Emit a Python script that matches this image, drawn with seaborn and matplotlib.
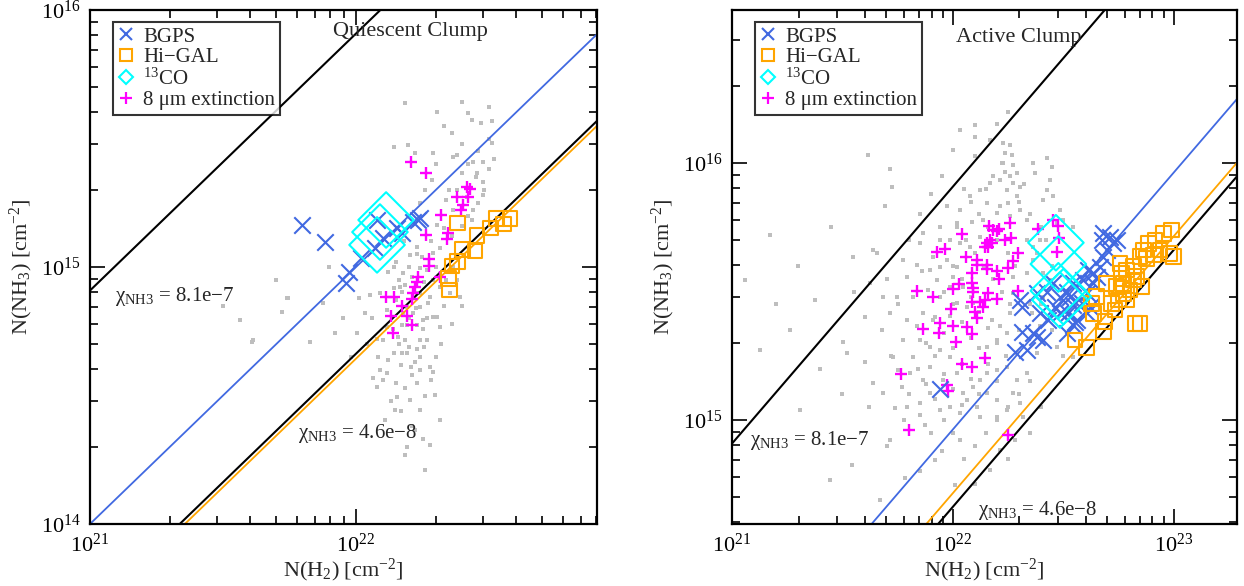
import numpy as np
import pandas as pd
import matplotlib
matplotlib.use("Agg")
import matplotlib.pyplot as plt
import seaborn as sns
from matplotlib.lines import Line2D
from matplotlib.ticker import LogLocator, NullFormatter

sns.set_style("ticks")
plt.rcParams["font.family"] = ["Liberation Serif", "DejaVu Serif"]
plt.rcParams["mathtext.fontset"] = "custom"
plt.rcParams["mathtext.rm"] = "Liberation Serif"
plt.rcParams["mathtext.it"] = "Liberation Serif:italic"
plt.rcParams["mathtext.bf"] = "Liberation Serif:bold"

# ---------------- data (log10 of column densities, cm^-2) ----------------
# Quiescent clump panel
q_grey_lx = [22.141, 22.197, 22.222, 22.291, 22.285, 22.366, 22.379, 22.441, 22.479, 22.454,
             22.479, 22.510, 22.398, 22.416, 22.479, 22.441, 22.366, 22.435, 22.304, 22.316,
             22.291, 22.228, 22.203, 22.247, 22.241, 22.266, 22.178, 22.166, 22.141, 22.172,
             22.241, 22.278, 22.241, 22.291, 22.304, 22.191, 22.228, 22.172, 22.116, 22.159,
             22.241, 22.266, 22.184, 22.141, 22.191, 22.241, 22.222, 22.278, 22.090, 22.116,
             22.065, 22.078, 22.153, 22.210, 22.291, 22.034, 22.003, 21.921, 21.827, 21.746,
             21.721, 21.564, 21.608, 21.877, 22.053, 22.141, 22.366, 22.354, 22.391, 22.316,
             22.191, 22.216, 22.116, 22.103, 22.172, 22.084, 22.316, 22.253, 21.613, 21.741,
             22.222, 22.278, 22.184, 22.259, 22.316, 22.147, 22.241, 22.203, 22.297, 22.109,
             22.184, 22.305, 22.398, 22.500, 22.436, 22.511,
             22.160, 22.185, 22.210, 22.230, 22.255, 22.270, 22.150, 22.175, 22.200, 22.225,
             22.250, 22.265, 22.140, 22.160, 22.200, 22.230, 22.255, 22.170, 22.205, 22.240,
             22.120, 22.100, 22.150, 22.185, 22.230, 22.130, 22.170, 22.260, 22.280, 22.300,
             22.320, 22.330, 22.340, 22.300, 22.280, 22.330, 22.360, 22.400, 22.420, 22.460,
             22.480, 22.450, 22.420, 22.460, 22.500, 22.400, 22.360, 22.330, 22.300, 22.260,
             22.240, 22.340, 22.380, 22.500, 22.520, 22.470, 22.420, 22.350, 22.120, 22.090,
             22.060, 22.040, 22.010, 21.980, 22.080, 22.200, 22.230, 22.180, 22.380, 22.400,
             22.360, 22.290, 22.150, 21.950, 21.700, 21.500, 21.900, 22.210, 22.250, 22.190]
q_grey_ly = [15.468, 15.475, 15.442, 15.442, 15.338, 15.429, 15.436, 15.410, 15.410, 15.364,
             15.332, 15.481, 15.364, 15.274, 15.280, 15.222, 15.222, 15.183, 15.163, 15.072,
             15.053, 15.079, 15.047, 15.040, 14.995, 14.988, 14.975, 14.923, 14.917, 14.904,
             14.897, 14.884, 14.845, 14.807, 14.807, 14.774, 14.774, 14.774, 14.768, 14.729,
             14.716, 14.716, 14.716, 14.664, 14.664, 14.651, 14.632, 14.612, 14.599, 14.586,
             14.567, 14.534, 14.495, 14.580, 14.593, 14.820, 14.742, 14.744, 14.709, 14.878,
             14.826, 14.794, 14.709, 14.858, 14.891, 15.001, 15.001, 14.897, 14.884, 14.923,
             14.845, 14.820, 14.833, 14.716, 14.664, 14.651, 14.768, 14.794, 14.716, 14.879,
             14.366, 14.307, 14.268, 14.210, 14.405, 14.444, 14.444, 14.482, 14.502, 14.405,
             15.638, 15.603, 15.642, 15.623, 15.572, 15.568,
             14.950, 14.930, 14.960, 14.900, 14.940, 14.860, 14.870, 14.820, 14.800, 14.840,
             14.760, 14.800, 14.760, 14.700, 14.690, 14.680, 14.690, 14.620, 14.610, 14.600,
             14.640, 14.560, 14.550, 14.530, 14.550, 14.480, 14.440, 14.500, 14.560, 14.650,
             14.700, 14.850, 14.950, 15.000, 15.100, 15.150, 15.120, 15.160, 15.200, 15.250,
             15.300, 15.350, 15.400, 15.450, 15.500, 15.480, 15.520, 15.550, 15.400, 15.300,
             15.250, 15.260, 15.300, 15.380, 15.420, 15.560, 15.600, 15.300, 14.980, 14.900,
             14.800, 14.700, 14.880, 14.650, 14.720, 15.000, 15.050, 15.100, 14.950, 14.850,
             14.780, 14.950, 15.020, 14.800, 14.950, 14.850, 15.000, 14.380, 14.330, 14.300]

q_bgps_lx = [21.796, 21.885, 21.962, 21.975, 22.018, 22.071, 22.078, 22.103, 22.153, 22.172,
             22.215, 22.234, 22.241]
q_bgps_ly = [15.163, 15.098, 14.939, 14.982, 15.034, 15.073, 15.183, 15.112, 15.151, 15.131,
             15.176, 15.183, 15.189]

q_higal_lx = [22.381, 22.529, 22.579, 22.554, 22.506, 22.454, 22.447, 22.400, 22.381, 22.360,
              22.347, 22.351]
q_higal_ly = [15.172, 15.189, 15.189, 15.167, 15.151, 15.122, 15.062, 15.069, 15.021, 15.004,
              14.956, 14.911]

q_co_lx = [22.113, 22.090, 22.079]
q_co_ly = [15.183, 15.136, 15.086]

q_ext_lx = [22.206, 22.263, 22.416, 22.429, 22.422, 22.381, 22.403, 22.394, 22.318, 22.347,
            22.341, 22.262, 22.276, 22.276, 22.232, 22.228, 22.222, 22.215, 22.209, 22.112,
            22.143, 22.173, 22.133, 22.193, 22.209, 22.140, 22.316]
q_ext_ly = [15.410, 15.365, 15.312, 15.302, 15.271, 15.271, 15.241, 15.222, 15.201, 15.133,
            15.108, 15.125, 15.030, 15.005, 14.962, 14.943, 14.923, 14.898, 14.874, 14.884,
            14.884, 14.849, 14.810, 14.810, 14.774, 14.744, 14.962]

# Active clump panel
a_grey_lx = [21.617, 21.715, 21.693, 21.723, 22.100, 22.228, 22.236, 22.266, 22.228, 22.273,
             22.236, 22.288, 22.213, 22.243, 22.273, 22.303, 22.288, 22.251, 22.213, 22.198,
             22.258, 22.303, 22.334, 22.364, 22.424, 22.447, 22.371, 22.424, 22.454, 22.409,
             22.484, 22.439, 22.153, 22.138, 22.085, 21.972, 21.941, 21.866, 21.851, 21.836,
             21.859, 21.896, 21.941, 21.926, 22.002, 21.987, 21.941, 22.017, 22.062, 21.866,
             21.791, 21.715, 21.640, 21.655, 21.549, 21.625, 21.685, 21.745, 21.776, 21.821,
             21.730, 21.753, 21.806, 21.866, 21.896, 21.851, 21.791, 21.738, 21.941, 21.987,
             22.047, 22.092, 22.122, 22.153, 22.198, 22.243, 22.153, 22.198, 22.243, 22.213,
             22.175, 22.258, 22.273, 22.273, 22.334, 22.364, 22.334, 22.364, 22.394, 22.409,
             22.439, 22.469, 22.500, 22.545, 22.379, 22.334, 22.288, 22.273, 22.303, 22.243,
             22.198, 22.153, 22.107, 22.062, 22.017, 21.987, 21.941, 21.896, 21.851, 21.836,
             21.911, 21.987, 22.092, 22.047, 22.017, 21.972, 22.077, 22.122, 22.032, 21.987,
             21.911, 21.776, 21.791, 21.821, 21.889, 21.941, 22.017, 22.032, 22.077, 22.122,
             22.168, 21.504, 21.519, 21.602, 21.640, 21.685, 21.768, 21.896, 21.957, 22.032,
             22.122, 22.198, 22.319, 22.288, 22.394, 22.409, 22.356, 22.424, 22.545, 22.469,
             22.032, 22.167, 22.258, 22.100, 21.443, 21.543, 21.783, 22.009, 22.213, 22.281,
             21.919, 21.670, 22.167, 22.032, 21.873, 21.715, 21.059, 21.127, 21.262, 21.308,
             21.376, 21.172,
             22.05, 22.08, 22.12, 22.16, 22.20, 22.02, 22.06, 22.10, 22.14, 22.18,
             22.22, 22.26, 22.00, 22.04, 22.08, 22.12, 22.16, 22.20, 22.24, 21.96,
             22.00, 22.04, 22.08, 22.12, 22.16, 22.20, 21.92, 21.96, 22.00, 22.04,
             22.08, 22.12, 21.88, 21.92, 21.96, 22.00, 22.04, 21.84, 21.88, 21.92,
             21.96, 22.00, 21.80, 21.85, 21.90, 21.95, 22.05, 22.10, 22.15, 22.20,
             22.25, 22.30, 22.35, 22.30, 22.28, 22.25, 22.30, 22.26, 22.22, 22.18,
             22.15, 22.32, 22.35, 22.40, 22.38, 22.42, 22.45, 22.40, 22.45, 22.50,
             22.35, 21.75, 21.70, 21.68, 21.72, 21.60, 21.55, 21.80, 21.85, 21.90,
             21.95, 22.00, 22.10, 22.20, 22.25, 21.78, 21.70, 21.62, 21.50, 21.40,
             21.85, 22.10, 22.25, 22.35, 22.40, 21.30, 21.20, 21.45]
a_grey_ly = [16.032, 15.976, 15.833, 15.908, 16.028, 16.077, 16.038, 16.032, 15.999, 15.993,
             15.967, 15.960, 15.934, 15.895, 15.921, 15.908, 15.870, 15.844, 15.831, 15.805,
             15.792, 15.818, 15.779, 15.999, 16.019, 15.986, 15.960, 15.895, 15.870, 15.857,
             15.818, 15.934, 15.844, 15.779, 15.772, 15.831, 15.753, 15.727, 15.688, 15.604,
             15.578, 15.584, 15.597, 15.545, 15.558, 15.519, 15.480, 15.454, 15.441, 15.416,
             15.390, 15.416, 15.662, 15.649, 15.636, 15.532, 15.480, 15.480, 15.312, 15.247,
             15.247, 15.195, 15.182, 15.156, 15.104, 15.065, 15.052, 15.046, 15.039, 15.052,
             15.104, 15.130, 15.156, 15.182, 15.195, 15.208, 15.286, 15.312, 15.338, 15.364,
             15.390, 15.416, 15.493, 15.558, 15.571, 15.623, 15.701, 15.675, 15.701, 15.571,
             15.545, 15.766, 15.779, 15.753, 15.260, 15.182, 15.156, 15.104, 15.065, 15.039,
             15.078, 15.104, 15.052, 15.078, 15.182, 15.247, 15.273, 15.286, 15.312, 15.364,
             15.390, 15.403, 15.454, 15.519, 15.597, 15.623, 15.675, 15.714, 15.688, 15.701,
             15.636, 15.623, 15.558, 15.480, 15.506, 15.701, 15.766, 15.818, 15.870, 15.895,
             15.921, 15.305, 15.260, 15.227, 15.143, 15.104, 15.130, 15.208, 15.156, 15.026,
             15.013, 15.013, 15.013, 15.260, 15.364, 15.480, 15.416, 15.441, 15.247, 15.286,
             16.128, 16.089, 16.070, 16.148, 14.767, 14.825, 14.774, 14.747, 14.883, 14.922,
             14.844, 14.689, 14.805, 14.922, 14.981, 14.922, 15.545, 15.272, 15.350, 15.039,
             15.467, 15.720,
             15.90, 15.85, 15.80, 15.75, 15.70, 15.75, 15.70, 15.65, 15.60, 15.55,
             15.50, 15.45, 15.60, 15.55, 15.48, 15.42, 15.36, 15.30, 15.25, 15.50,
             15.45, 15.38, 15.32, 15.28, 15.22, 15.15, 15.40, 15.34, 15.28, 15.22,
             15.16, 15.10, 15.30, 15.25, 15.18, 15.12, 15.06, 15.20, 15.14, 15.08,
             15.00, 14.95, 15.10, 15.02, 14.95, 14.88, 14.85, 14.90, 14.95, 15.00,
             15.05, 15.10, 15.15, 15.35, 15.60, 15.65, 15.85, 15.95, 16.00, 15.95,
             15.90, 15.92, 15.80, 15.75, 15.65, 15.70, 15.60, 15.45, 15.35, 15.25,
             15.45, 15.45, 15.55, 15.35, 15.25, 15.40, 15.50, 15.70, 15.80, 15.88,
             15.95, 16.05, 16.10, 16.15, 16.20, 15.00, 14.90, 15.05, 15.10, 15.20,
             14.80, 14.75, 14.85, 14.95, 15.05, 15.60, 15.45, 15.75]

a_bgps_lx = [21.941, 22.281, 22.311, 22.303, 22.311, 22.379, 22.364, 22.394, 22.432, 22.409,
             22.379, 22.462, 22.484, 22.515, 22.545, 22.530, 22.545, 22.522, 22.560, 22.515,
             22.582, 22.605, 22.620, 22.605, 22.635, 22.650, 22.665, 22.681, 22.696, 22.673,
             22.711, 22.726, 22.741, 22.681, 22.635, 22.613, 22.590, 22.454, 22.424, 22.484,
             22.545, 22.552, 22.334]
a_bgps_ly = [15.119, 15.266, 15.344, 15.467, 15.441, 15.493, 15.337, 15.415, 15.389, 15.311,
             15.324, 15.441, 15.480, 15.499, 15.532, 15.480, 15.447, 15.415, 15.389, 15.337,
             15.454, 15.493, 15.441, 15.415, 15.532, 15.558, 15.597, 15.636, 15.662, 15.700,
             15.713, 15.687, 15.700, 15.726, 15.571, 15.584, 15.545, 15.532, 15.499, 15.415,
             15.370, 15.383, 15.272]

a_higal_lx = [22.552, 22.605, 22.681, 22.688, 22.635, 22.628, 22.650, 22.733, 22.748, 22.771,
              22.756, 22.763, 22.786, 22.816, 22.847, 22.862, 22.877, 22.907, 22.914, 22.952,
              22.990, 22.997, 22.982, 22.937, 22.831, 22.854, 22.771, 22.801, 22.824, 22.847,
              22.696, 22.718, 22.741, 22.786, 22.884, 22.816]
a_higal_ly = [15.311, 15.283, 15.344, 15.383, 15.415, 15.454, 15.480, 15.428, 15.467, 15.493,
              15.610, 15.571, 15.584, 15.597, 15.636, 15.662, 15.629, 15.642, 15.700, 15.726,
              15.739, 15.636, 15.649, 15.662, 15.558, 15.519, 15.532, 15.506, 15.376, 15.376,
              15.532, 15.454, 15.519, 15.467, 15.687, 15.545]

a_co_lx = [22.466, 22.477, 22.477, 22.500, 22.484]
a_co_ly = [15.690, 15.607, 15.503, 15.480, 15.467]

a_ext_lx = [22.454, 22.386, 22.477, 22.481, 22.472, 22.258, 22.296, 22.163, 22.183, 22.198,
            22.210, 22.153, 22.145, 22.160, 22.175, 22.168, 22.236, 22.261, 22.040, 21.926,
            21.964, 22.059, 22.107, 22.110, 22.153, 22.153, 22.198, 22.251, 22.273, 22.085,
            22.088, 22.089, 22.092, 22.210, 22.160, 22.145, 22.122, 22.085, 22.198, 22.296,
            21.836, 21.908, 22.027, 22.002, 21.991, 22.100, 22.107, 22.138, 21.941, 22.002,
            22.065, 22.085, 21.938, 21.866, 22.012, 22.145, 22.043, 22.088, 21.765, 21.972,
            21.979, 21.801, 22.249]
a_ext_ly = [15.778, 15.742, 15.755, 15.707, 15.655, 15.765, 15.651, 15.755, 15.739, 15.737,
            15.742, 15.687, 15.674, 15.672, 15.687, 15.700, 15.700, 15.707, 15.724, 15.655,
            15.664, 15.636, 15.623, 15.603, 15.603, 15.586, 15.581, 15.593, 15.620, 15.571,
            15.532, 15.512, 15.499, 15.547, 15.493, 15.467, 15.460, 15.460, 15.472, 15.503,
            15.503, 15.477, 15.529, 15.510, 15.431, 15.422, 15.396, 15.441, 15.379, 15.367,
            15.363, 15.335, 15.337, 15.354, 15.305, 15.240, 15.218, 15.205, 15.179, 15.136,
            15.114, 14.961, 14.942]

# abundance lines  N(NH3) = chi * N(H2)
ref_chi = [8.1e-7, 4.6e-8]
ref_labels = ["8.1e\u22127", "4.6e\u22128"]
q_fit_chi = {"BGPS": 1.0e-7, "Hi-GAL": 4.4e-8}
a_fit_chi = {"BGPS": 9.2e-8, "Hi-GAL": 5.2e-8}

titles = ["Quiescent Clump", "Active Clump"]
q_xlim, q_ylim = (1e21, 8.05e22), (1e14, 1e16)
a_xlim, a_ylim = (1e21, 1.93e23), (3.94e14, 3.94e16)

# ---------------- styling ----------------
C_BLUE = "#4169E1"
C_ORANGE = "#FFA500"
C_CYAN = "#00FFFF"
C_MAG = "#FF00FF"
C_GREY = "#BEBEBE"
FS = 15

fig = plt.figure(figsize=(12.44, 5.86), dpi=100)
axL = fig.add_axes([90 / 1244, 1 - 524 / 586, 507 / 1244, 514 / 586])
axR = fig.add_axes([732 / 1244, 1 - 524 / 586, 505 / 1244, 514 / 586])


def df_of(lx, ly):
    return pd.DataFrame({"x": 10 ** np.asarray(lx), "y": 10 ** np.asarray(ly)})


def panel(ax, grey, bgps, higal, co, ext, fit_chi, xlim, ylim, title, title_pos,
          ref_pos):
    ax.set_xscale("log")
    ax.set_yscale("log")
    sns.scatterplot(data=df_of(*grey), x="x", y="y", ax=ax, marker="s", s=6,
                    color=C_GREY, linewidth=0, zorder=1)
    xs = np.array(xlim)
    for chi in ref_chi:
        sns.lineplot(x=xs, y=chi * xs, ax=ax, color="black", lw=1.5, zorder=2)
    sns.lineplot(x=xs, y=fit_chi["BGPS"] * xs, ax=ax, color=C_BLUE, lw=1.3, zorder=2)
    sns.lineplot(x=xs, y=fit_chi["Hi-GAL"] * xs, ax=ax, color=C_ORANGE, lw=1.3, zorder=2)

    sns.scatterplot(data=df_of(*ext), x="x", y="y", ax=ax, marker="+", s=75,
                    color=C_MAG, linewidth=1.7, zorder=3)
    sns.scatterplot(data=df_of(*bgps), x="x", y="y", ax=ax, marker="x", s=140,
                    color=C_BLUE, linewidth=1.5, zorder=4)
    sns.scatterplot(data=df_of(*higal), x="x", y="y", ax=ax, marker="s", s=110,
                    color=C_ORANGE, linewidth=1.5, zorder=4)
    ax.collections[-1].set_facecolor("none")
    ax.collections[-1].set_edgecolor(C_ORANGE)
    sns.scatterplot(data=df_of(*co), x="x", y="y", ax=ax, marker="D", s=800,
                    color=C_CYAN, linewidth=1.5, zorder=5)
    ax.collections[-1].set_facecolor("none")
    ax.collections[-1].set_edgecolor(C_CYAN)

    ax.set_xlim(*xlim)
    ax.set_ylim(*ylim)
    ax.set_xlabel(r"N(H$_2$) [cm$^{-2}$]", fontsize=FS + 1, labelpad=0)
    ax.set_ylabel(r"N(NH$_3$) [cm$^{-2}$]", fontsize=FS + 1, labelpad=4)
    ax.xaxis.set_minor_locator(LogLocator(base=10, subs=np.arange(2, 10), numticks=20))
    ax.yaxis.set_minor_locator(LogLocator(base=10, subs=np.arange(2, 10), numticks=20))
    ax.xaxis.set_minor_formatter(NullFormatter())
    ax.yaxis.set_minor_formatter(NullFormatter())
    ax.tick_params(which="both", direction="in", top=True, right=True,
                   labelsize=FS + 1, width=1.2, colors="black")
    ax.tick_params(which="major", length=11, pad=7)
    ax.tick_params(which="minor", length=6)
    ax.tick_params(axis="x", which="major", pad=7)
    for sp in ax.spines.values():
        sp.set_linewidth(1.6)
        sp.set_color("black")
        sp.set_visible(True)

    ax.text(title_pos[0], title_pos[1], title, transform=ax.transAxes,
            ha="center", va="baseline", fontsize=FS + 1)
    for (px, py), lab in zip(ref_pos, ref_labels):
        ax.text(px, py, "\u03c7$_{\\mathrm{NH3}}$ = " + lab, transform=ax.transAxes,
                ha="left", va="center", fontsize=FS)

    handles = [
        Line2D([], [], ls="none", marker="x", color=C_BLUE, ms=9, mew=1.5),
        Line2D([], [], ls="none", marker="s", mfc="none", mec=C_ORANGE, ms=8, mew=1.5),
        Line2D([], [], ls="none", marker="D", mfc="none", mec=C_CYAN, ms=7, mew=1.5),
        Line2D([], [], ls="none", marker="+", color=C_MAG, ms=9, mew=1.6),
    ]
    labels = ["BGPS", "Hi\u2212GAL", r"$^{13}$CO", "8 \u03bcm extinction"]
    leg = ax.legend(handles, labels, loc="upper left", bbox_to_anchor=(0.045, 0.977),
                    frameon=True, fancybox=False, edgecolor="black", fontsize=FS,
                    handlelength=0.8, handletextpad=0.4, borderpad=0.25,
                    labelspacing=0.05, borderaxespad=0.0)
    leg.get_frame().set_linewidth(1.5)
    leg.set_zorder(10)


panel(axL, (q_grey_lx, q_grey_ly), (q_bgps_lx, q_bgps_ly), (q_higal_lx, q_higal_ly),
      (q_co_lx, q_co_ly), (q_ext_lx, q_ext_ly), q_fit_chi, q_xlim, q_ylim, titles[0],
      (0.632, 0.949), [(0.049, 0.442), (0.410, 0.177)])
panel(axR, (a_grey_lx, a_grey_ly), (a_bgps_lx, a_bgps_ly), (a_higal_lx, a_higal_ly),
      (a_co_lx, a_co_ly), (a_ext_lx, a_ext_ly), a_fit_chi, a_xlim, a_ylim, titles[1],
      (0.568, 0.938), [(0.036, 0.163), (0.488, 0.027)])

fig.savefig("out.png", dpi=100)
